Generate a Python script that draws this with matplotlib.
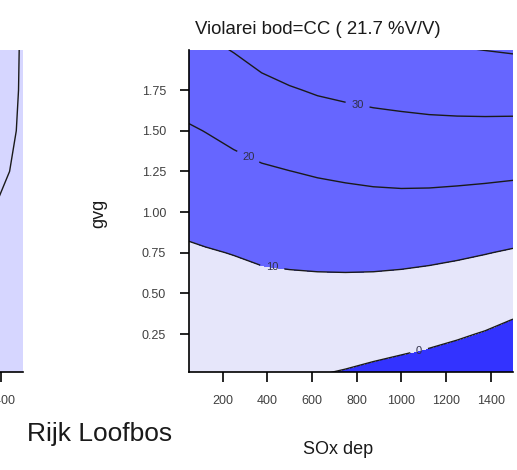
import numpy as np
import matplotlib
matplotlib.use("Agg")
import matplotlib.pyplot as plt

plt.rcParams["font.family"] = ["Liberation Sans", "DejaVu Sans"]

# fitted cover surface (% V/V), rows = gvg, columns = SOx dep
sox = [50, 125, 250, 375, 500, 625, 750, 875, 1000, 1125, 1250, 1375, 1500]
gvg = [0.0, 0.25, 0.5, 0.75, 1.0, 1.25, 1.5, 1.75, 2.0]
cover = [
    [1.52, 1.50, 1.19, 0.93, 0.58, 0.08, -0.58, -1.46, -2.30, -3.18, -4.33, -5.74, -7.84],
    [4.05, 4.17, 4.18, 4.27, 4.17, 3.95, 3.59, 3.04, 2.42, 1.70, 0.75, -0.43, -2.11],
    [6.58, 6.84, 7.17, 7.60, 7.77, 7.83, 7.76, 7.54, 7.13, 6.58, 5.83, 4.89, 3.62],
    [9.11, 9.52, 10.20, 11.12, 11.58, 11.91, 12.11, 12.16, 11.98, 11.57, 10.98, 10.23, 9.36],
    [12.28, 12.95, 14.03, 15.12, 15.75, 16.26, 16.64, 16.94, 17.02, 16.81, 16.41, 15.91, 15.29],
    [15.79, 16.55, 17.86, 19.12, 19.92, 20.70, 21.32, 21.86, 22.16, 22.20, 22.00, 21.72, 21.33],
    [19.30, 20.17, 21.85, 23.45, 24.67, 25.69, 26.40, 27.04, 27.46, 27.80, 27.90, 27.86, 27.72],
    [23.33, 24.33, 26.05, 27.88, 29.43, 30.70, 31.54, 32.29, 32.83, 33.36, 33.74, 34.01, 34.12],
    [27.50, 28.50, 30.36, 32.89, 34.68, 35.87, 36.83, 37.64, 38.26, 38.89, 39.60, 40.17, 40.74],
]

# neighbouring panel (Rijk Loofbos), only its right edge is in view
sox_left = [1250, 1350, 1450, 1500]
gvg_left = [0.0, 0.5, 1.0, 1.25, 1.5, 1.75, 2.0]
cover_left = [
    [15.0, 17.0, 19.0, 20.0],
    [12.0, 14.0, 16.0, 17.0],
    [7.7, 9.7, 11.7, 12.7],
    [6.2, 8.2, 10.2, 11.2],
    [5.6, 7.6, 9.6, 10.6],
    [5.4, 7.4, 9.4, 10.4],
    [5.34, 7.34, 9.34, 10.34],
]

fill_levels = [-20, 0, 10, 50]
fill_colors = ["#3333ff", "#e6e6fa", "#6666ff"]
line_levels = [0, 10, 20, 30, 40]
label_spots = [(803, 1.65), (315, 1.34), (422, 0.66), (1080, 0.147)]

x_ticks = [200, 400, 600, 800, 1000, 1200, 1400]
y_ticks = [0.25, 0.50, 0.75, 1.00, 1.25, 1.50, 1.75]

W, H = 517, 470
fig = plt.figure(figsize=(W / 100, H / 100), dpi=100)


def style_axes(ax):
    for side in ("top", "right"):
        ax.spines[side].set_visible(False)
    for side in ("left", "bottom"):
        ax.spines[side].set_linewidth(1.2)
    ax.set_xlim(50, 1500)
    ax.set_ylim(0.017, 1.996)
    ax.set_xticks(x_ticks)
    ax.set_xticklabels([str(t) for t in x_ticks])
    ax.set_yticks(y_ticks)
    ax.set_yticklabels(["%.2f" % t for t in y_ticks])
    ax.tick_params(axis="x", length=7.5, width=1.2, pad=9, labelsize=9, labelcolor="#404040")
    ax.tick_params(axis="y", length=6.5, width=1.2, pad=10, labelsize=9, labelcolor="#404040")


# right panel
ax = fig.add_axes([189 / W, 98 / H, 324 / W, 322 / H])
X, Y = np.meshgrid(sox, gvg)
Z = np.array(cover)
ax.contourf(X, Y, Z, levels=fill_levels, colors=fill_colors)
cs = ax.contour(X, Y, Z, levels=line_levels, colors="#1a1a1a", linewidths=1.0)
labels = ax.clabel(cs, levels=[30, 20, 10, 0], manual=label_spots, fmt="%d",
                   fontsize=8, colors="#303048", inline=True, inline_spacing=6)
for t in labels:
    t.set_rotation(0)
style_axes(ax)

# left panel, mostly off the figure; only its 1400 tick peeks in
axl = fig.add_axes([-301 / W, 98 / H, 324 / W, 322 / H])
XL, YL = np.meshgrid(sox_left, gvg_left)
ZL = np.array(cover_left)
axl.set_facecolor("#d6d6ff")
axl.contourf(XL, YL, ZL, levels=[0, 30], colors=["#d6d6ff"])
axl.contour(XL, YL, ZL, levels=[10], colors="#1a1a1a", linewidths=1.0)
style_axes(axl)
axl.set_xticks([1400])
axl.set_xticklabels(["1400"])
axl.set_yticks([])

fig.text(195 / W, 1 - 30 / H, "Violarei bod=CC ( 21.7 %V/V)", ha="left", va="center",
         fontsize=13.4, color="#1a1a1a")
fig.text(338 / W, 1 - 450 / H, "SOx dep", ha="center", va="center", fontsize=13, color="#1a1a1a")
fig.text(99 / W, 1 - 213 / H, "gvg", ha="center", va="center", rotation=90, fontsize=13,
         color="#1a1a1a")
fig.text(27 / W, 1 - 441 / H, "Rijk Loofbos", ha="left", va="baseline", fontsize=19,
         color="#1a1a1a")

fig.savefig("out.png", dpi=100)
